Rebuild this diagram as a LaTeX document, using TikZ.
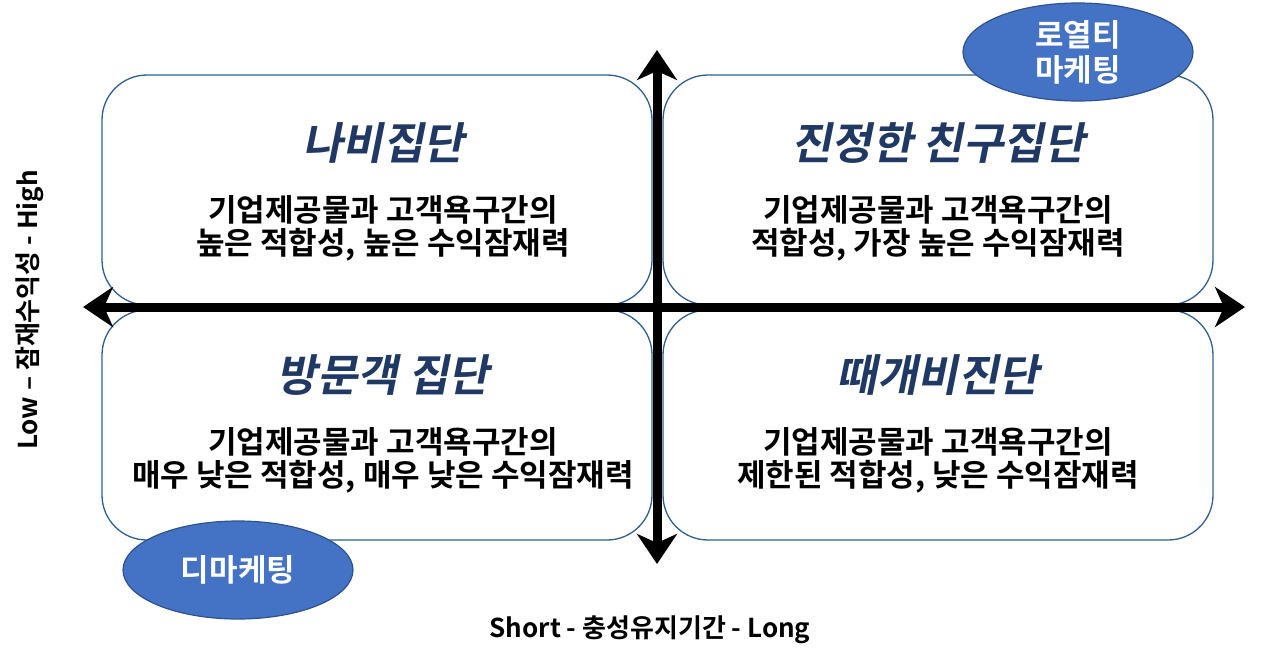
\documentclass[tikz,border=0pt]{standalone}
\usepackage{fontspec}
\setmainfont{Noto Sans CJK KR}[
  BoldFont={Noto Sans CJK KR Bold},
  ItalicFont={Noto Sans CJK KR},
  ItalicFeatures={FakeSlant=0.2},
  BoldItalicFont={Noto Sans CJK KR Bold},
  BoldItalicFeatures={FakeSlant=0.2}]
\usepackage{xcolor}
\usetikzlibrary{positioning,shapes.geometric,arrows.meta}

\definecolor{boxline}{HTML}{2F5F8F}
\definecolor{titleblue}{HTML}{1F3864}
\definecolor{ovalfill}{HTML}{4472C4}
\definecolor{ovalline}{HTML}{2F528F}

\begin{document}
\begin{tikzpicture}[
    x=1pt, y=-1pt,
    quad/.style  = {draw=boxline, line width=1.3pt, rounded corners=45pt,
                    minimum width=550pt, minimum height=230pt, inner sep=0pt},
    ttl/.style   = {font=\fontsize{44}{48}\selectfont\bfseries\itshape, text=titleblue},
    body/.style  = {font=\fontsize{31}{33}\selectfont\bfseries, align=center},
    oval/.style  = {ellipse, draw=ovalline, line width=1.2pt, fill=ovalfill,
                    minimum width=230pt, minimum height=98pt, inner sep=0pt,
                    text=white, align=center,
                    font=\fontsize{31}{35}\selectfont\bfseries},
    axis/.style  = {line width=9pt, {Stealth[length=30pt,width=40pt,inset=9pt]}-{Stealth[length=30pt,width=40pt,inset=9pt]}},
    lbl/.style   = {font=\fontsize{26}{28}\selectfont\bfseries},
]
\useasboundingbox (0,0) rectangle (1280,665);

%--- quadrants
\node[quad] (qtl) at (377,190) {};
\node[quad] (qtr) at (938,190) {};
\node[quad] (qbl) at (377,425) {};
\node[quad] (qbr) at (938,425) {};

%--- titles
\node[ttl] (ttl1) at (383,143) {나비집단};
\node[ttl] (ttl2) at (938,143) {진정한 친구집단};
\node[ttl] (ttl3) at (383,375) {방문객 집단};
\node[ttl] (ttl4) at (938,375) {때개비진단};

%--- descriptions
\node[body] (txt1) at (383,228) {기업제공물과 고객욕구간의\\높은 적합성, 높은 수익잠재력};
\node[body] (txt2) at (938,228) {기업제공물과 고객욕구간의\\적합성, 가장 높은 수익잠재력};
\node[body] (txt3) at (383,460) {기업제공물과 고객욕구간의\\매우 낮은 적합성, 매우 낮은 수익잠재력};
\node[body] (txt4) at (938,460) {기업제공물과 고객욕구간의\\제한된 적합성, 낮은 수익잠재력};

%--- axes
\coordinate (xl) at (83,307);
\coordinate (xr) at (1245,307);
\coordinate (yt) at (657,50);
\coordinate (yb) at (657,564);
\draw[axis] (xl) -- (xr);
\draw[axis] (yb) -- (yt);

%--- marketing ovals
\node[oval] (loyal) at (1078,52) {로열티\\마케팅};
\node[oval] (demkt) at (238,570) {디마케팅};

%--- axis labels
\node[lbl] (xlab) at (650,630) {Short - 충성유지기간 - Long};
\node[lbl, rotate=90] (ylab) at (30,310) {Low – 잠재수익성 - High};

\end{tikzpicture}
\end{document}
